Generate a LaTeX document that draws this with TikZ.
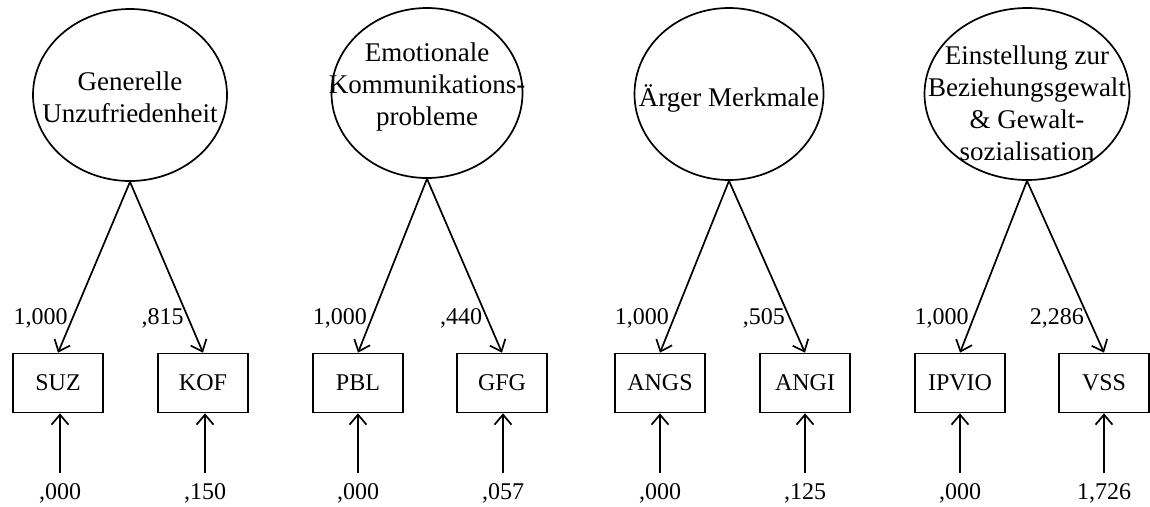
\documentclass[tikz,border=0pt]{standalone}
\usepackage{fontspec}
\setmainfont{Liberation Serif}
\usepackage{tikz}
\usetikzlibrary{arrows.meta,positioning,shapes.geometric}
\tikzset{
  latent/.style={ellipse,draw,line width=1.7pt,inner sep=0pt,
    minimum width=194pt,minimum height=172pt},
  latenttext/.style={align=center,inner sep=0pt,
    font=\fontsize{27}{32}\selectfont},
  manifest/.style={rectangle,draw,line width=1.7pt,inner sep=0pt,
    minimum width=90pt,minimum height=59pt,font=\fontsize{24}{28}\selectfont},
  coef/.style={font=\fontsize{24}{28}\selectfont,inner sep=4pt},
  load/.style={-{Straight Barb[length=10pt,width=17pt,line width=1.7pt]},
    line width=1.7pt}
}

\begin{document}
\begin{tikzpicture}[x=1pt,y=-1pt]
  \useasboundingbox (0,0) rectangle (1150,506);
  % latent factors
  \node[latent,label={[latenttext,yshift=-2pt]center:Generelle\\Unzufriedenheit}]
    (unzuf) at (130,95) {};
  \node[latent,minimum width=191pt,minimum height=170pt,
    label={[latenttext,yshift=6pt]center:Emotionale\\Kommunikations-\\probleme}]
    (kommun) at (427,93) {};
  \node[latent,minimum width=189pt,
    label={[latenttext,yshift=-4pt]center:Ärger Merkmale}]
    (aerger) at (729,94) {};
  \node[latent,minimum width=205pt,
    label={[latenttext,yshift=-9pt]center:Einstellung zur\\Beziehungsgewalt\\\& Gewalt-\\sozialisation}]
    (gewalt) at (1027,94) {};
  % indicators
  \node[manifest] (suz) at (58,383) {SUZ};
  \node[manifest] (kof) at (203,383) {KOF};
  \node[manifest] (pbl) at (358,383) {PBL};
  \node[manifest] (gfg) at (502,383) {GFG};
  \node[manifest] (angs) at (660,383) {ANGS};
  \node[manifest] (angi) at (805,383) {ANGI};
  \node[manifest] (ipvio) at (960,383) {IPVIO};
  \node[manifest] (vss) at (1104,383) {VSS};
  % error variances
  \node[coef] (esuz) at (60,493) {,000};
  \node[coef] (ekof) at (205,493) {,150};
  \node[coef] (epbl) at (358,493) {,000};
  \node[coef] (egfg) at (503,493) {,057};
  \node[coef] (eangs) at (660,493) {,000};
  \node[coef] (eangi) at (805,493) {,125};
  \node[coef] (eipvio) at (960,493) {,000};
  \node[coef] (evss) at (1104,493) {1,726};
  % loadings
  \draw[load] (unzuf.south) -- node[coef,pos=0.8,left] {1,000} (suz.north);
  \draw[load] (unzuf.south) -- node[coef,pos=0.8,left] {,815} (kof.north);
  \draw[load] (kommun.south) -- node[coef,pos=0.8,left] {1,000} (pbl.north);
  \draw[load] (kommun.south) -- node[coef,pos=0.8,left] {,440} (gfg.north);
  \draw[load] (aerger.south) -- node[coef,pos=0.8,left] {1,000} (angs.north);
  \draw[load] (aerger.south) -- node[coef,pos=0.8,left] {,505} (angi.north);
  \draw[load] (gewalt.south) -- node[coef,pos=0.8,left] {1,000} (ipvio.north);
  \draw[load] (gewalt.south) -- node[coef,pos=0.8,left] {2,286} (vss.north);
  % residual arrows
  \draw[load] ([yshift=6pt]esuz.north) -- (esuz |- suz.south);
  \draw[load] ([yshift=6pt]ekof.north) -- (ekof |- kof.south);
  \draw[load] ([yshift=6pt]epbl.north) -- (epbl |- pbl.south);
  \draw[load] ([yshift=6pt]egfg.north) -- (egfg |- gfg.south);
  \draw[load] ([yshift=6pt]eangs.north) -- (eangs |- angs.south);
  \draw[load] ([yshift=6pt]eangi.north) -- (eangi |- angi.south);
  \draw[load] ([yshift=6pt]eipvio.north) -- (eipvio |- ipvio.south);
  \draw[load] ([yshift=6pt]evss.north) -- (evss |- vss.south);
\end{tikzpicture}
\end{document}
